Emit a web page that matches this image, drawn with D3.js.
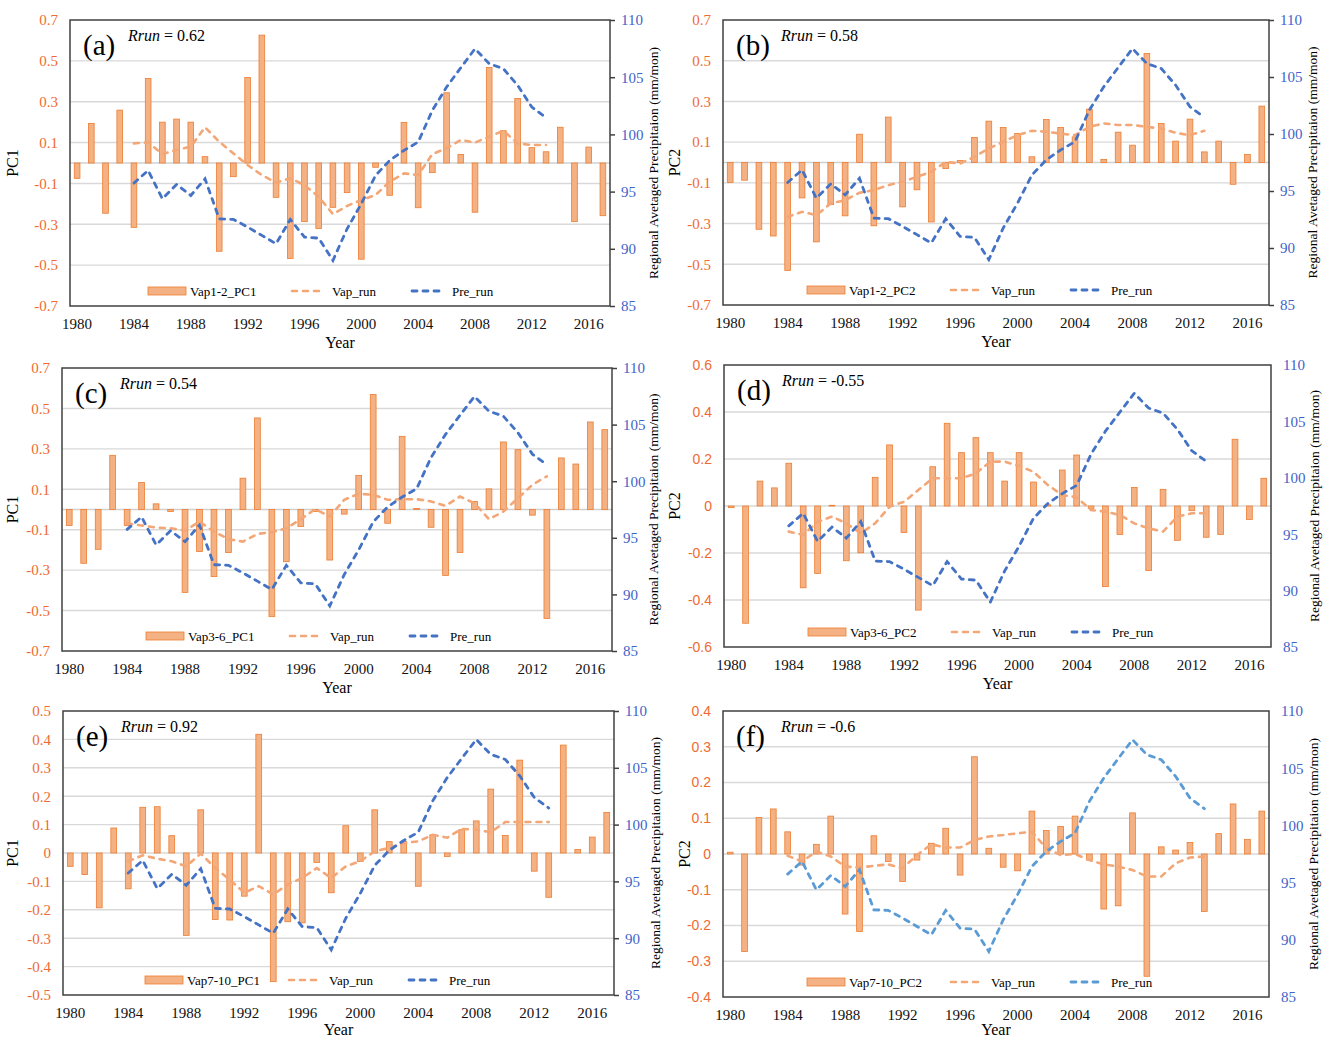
<!DOCTYPE html>
<html>
<head>
<meta charset="utf-8">
<title>Vap PCs vs regional precipitation</title>
<script src="https://d3js.org/d3.v7.min.js"></script>
<style>
  body { margin: 0; background: #fff; }
  svg { display: block; }
  svg text { font-family: "Liberation Serif", "Times New Roman", serif; }
  .grid line { stroke: #d9d9d9; stroke-width: 1.4px; }
  .frame { fill: none; stroke: #404040; stroke-width: 1.5px; }
  .bar { fill: #f4b183; stroke: #ed7d31; stroke-width: 0.8px; }
  .vap { fill: none; stroke: #f3a676; stroke-width: 2.6px; stroke-dasharray: 5,6; stroke-linecap: round; }
  .pre { fill: none; stroke: #4472c4; stroke-width: 2.8px; stroke-dasharray: 5,6; stroke-linecap: round; }
  .pre.light { stroke: #5b9bd5; }
  .yl text { fill: #ef6a32; font-size: 15px; }
  .yr text { fill: #3f63c8; font-size: 15px; }
  .xa text { fill: #111; font-size: 15px; }
  svg .sans text { font-family: "Liberation Sans", Arial, sans-serif; font-size: 14px; }
</style>
</head>
<body>
<div id="chart"></div>
<script>
// categories
var years = [1980,1981,1982,1983,1984,1985,1986,1987,1988,1989,
             1990,1991,1992,1993,1994,1995,1996,1997,1998,1999,
             2000,2001,2002,2003,2004,2005,2006,2007,2008,2009,
             2010,2011,2012,2013,2014,2015,2016,2017];
var runYears = [1984,1985,1986,1987,1988,1989,1990,1991,1992,1993,
                1994,1995,1996,1997,1998,1999,2000,2001,2002,2003,
                2004,2005,2006,2007,2008,2009,2010,2011,2012,2013];
var yearTicks = [1980,1984,1988,1992,1996,2000,2004,2008,2012,2016];

// regional averaged precipitation, running mean (mm/mon)
var preRun = [95.74,96.85,94.37,95.63,94.66,96.12,92.62,92.57,91.9,91.17,
              90.44,92.57,91.02,90.93,88.98,91.75,93.94,96.41,97.73,98.6,
              99.33,102.1,104.14,105.83,107.49,106.18,105.74,104.29,102.39,101.46];

// (a) Vap1-2 PC1
var pcA = [-0.075,0.194,-0.246,0.259,-0.315,0.414,0.2,0.215,0.2,0.031,
           -0.432,-0.067,0.419,0.626,-0.168,-0.467,-0.287,-0.321,-0.217,-0.145,
           -0.471,-0.021,-0.158,0.199,-0.219,-0.047,0.344,0.042,-0.241,0.468,
           0.158,0.316,0.075,0.055,0.175,-0.287,0.078,-0.258];
var vapA = [0.096,0.101,0.044,0.064,0.080,0.175,0.104,0.047,-0.010,-0.059,
            -0.096,-0.075,-0.108,-0.165,-0.250,-0.210,-0.181,-0.157,-0.091,-0.051,
            -0.059,0.044,0.072,0.113,0.100,0.129,0.158,0.096,0.088,0.088];

// (b) Vap1-2 PC2
var pcB = [-0.098,-0.087,-0.328,-0.361,-0.53,-0.174,-0.39,-0.207,-0.262,0.139,
           -0.311,0.223,-0.218,-0.134,-0.292,-0.03,0.01,0.123,0.203,0.172,
           0.143,0.028,0.211,0.172,0.126,0.262,0.015,0.149,0.085,0.536,
           0.192,0.105,0.213,0.052,0.105,-0.107,0.039,0.277];
var vapB = [-0.267,-0.242,-0.259,-0.201,-0.185,-0.149,-0.136,-0.111,-0.095,-0.070,
            -0.046,0.003,-0.005,0.028,0.069,0.102,0.134,0.156,0.151,0.142,
            0.134,0.175,0.192,0.184,0.184,0.175,0.167,0.146,0.134,0.156];

// (c) Vap3-6 PC1
var pcC = [-0.079,-0.266,-0.197,0.268,-0.079,0.134,0.028,-0.01,-0.41,-0.208,
           -0.332,-0.213,0.155,0.453,-0.53,-0.258,-0.084,-0.01,-0.25,-0.023,
           0.169,0.569,-0.068,0.362,0.005,-0.088,-0.326,-0.213,0.04,0.102,
           0.334,0.296,-0.028,-0.539,0.255,0.225,0.433,0.395];
var vapC = [-0.068,-0.079,-0.089,-0.093,-0.104,-0.060,-0.109,-0.147,-0.159,-0.121,
            -0.112,-0.093,-0.048,0.002,-0.035,0.048,0.078,0.073,0.048,0.051,
            0.051,0.040,0.018,0.064,0.031,-0.048,-0.010,0.056,0.122,0.164];

// (d) Vap3-6 PC2
var pcD = [-0.007,-0.499,0.106,0.077,0.182,-0.348,-0.287,0.003,-0.233,-0.199,
           0.122,0.26,-0.113,-0.443,0.167,0.352,0.227,0.291,0.227,0.106,
           0.227,0.102,0.005,0.153,0.217,-0.01,-0.343,-0.121,0.079,-0.275,
           0.071,-0.146,-0.02,-0.133,-0.121,0.284,-0.057,0.118];
var vapD = [-0.109,-0.123,-0.067,-0.045,-0.074,-0.116,-0.074,-0.003,0.018,0.068,
            0.118,0.118,0.118,0.139,0.189,0.189,0.170,0.146,0.089,0.047,
            0.037,-0.017,-0.024,-0.038,-0.074,-0.095,-0.109,-0.045,-0.031,-0.031];

// (e) Vap7-10 PC1
var pcE = [-0.047,-0.076,-0.193,0.088,-0.126,0.161,0.163,0.061,-0.29,0.152,
           -0.234,-0.236,-0.152,0.418,-0.453,-0.242,-0.246,-0.033,-0.14,0.096,
           -0.03,0.152,0.04,0.04,-0.117,0.064,-0.012,0.082,0.113,0.225,
           0.062,0.327,-0.064,-0.156,0.38,0.012,0.056,0.143];
var vapE = [-0.029,-0.008,-0.02,-0.029,-0.047,-0.002,-0.053,-0.094,-0.14,-0.117,
            -0.146,-0.111,-0.088,-0.053,-0.088,-0.047,-0.029,0.006,0.018,0.035,
            0.041,0.064,0.054,0.085,0.082,0.073,0.109,0.109,0.109,0.109];

// (f) Vap7-10 PC2
var pcF = [0.005,-0.273,0.102,0.126,0.062,-0.031,0.027,0.106,-0.168,-0.217,
           0.051,-0.021,-0.077,-0.017,0.03,0.072,-0.059,0.272,0.016,-0.037,
           -0.047,0.12,0.066,0.077,0.106,-0.017,-0.154,-0.145,0.115,-0.342,
           0.02,0.011,0.032,-0.161,0.057,0.14,0.041,0.12];
var vapF = [-0.005,-0.021,0.007,-0.007,-0.035,-0.038,-0.033,-0.029,-0.04,-0.003,
            0.027,0.018,0.018,0.039,0.049,0.053,0.058,0.062,0.016,-0.003,
            0.0,-0.017,-0.029,-0.035,-0.045,-0.063,-0.063,-0.026,-0.01,-0.007];

// tick labels
var ticks07 = [0.7,0.5,0.3,0.1,-0.1,-0.3,-0.5,-0.7];
var ticks06 = [0.6,0.4,0.2,0,-0.2,-0.4,-0.6];
var ticks05 = [0.5,0.4,0.3,0.2,0.1,0,-0.1,-0.2,-0.3,-0.4,-0.5];
var ticks04 = [0.4,0.3,0.2,0.1,0,-0.1,-0.2,-0.3,-0.4];
var preTicks = [85,90,95,100,105,110];

var rRun = ["0.62","0.58","0.54","-0.55","0.92","-0.6"];
var pcNames = ["Vap1-2_PC1","Vap1-2_PC2","Vap3-6_PC1","Vap3-6_PC2","Vap7-10_PC1","Vap7-10_PC2"];

// layout: frame box of each panel [left, top, right, bottom]
var panels = [
  {tag:"(a)", box:[70,20,610,306],   pc:pcA, vap:vapA, ticks:ticks07, title:"PC1", titleDx:52, rtDx:48, legDx:-6, rTicks:true},
  {tag:"(b)", box:[723,20,1269,305], pc:pcB, vap:vapB, ticks:ticks07, title:"PC2", titleDx:43, rtDx:48, legDx:0,  rTicks:true},
  {tag:"(c)", box:[62,368,612,651],  pc:pcC, vap:vapC, ticks:ticks07, title:"PC1", titleDx:44, rtDx:46, legDx:0,  rTicks:true},
  {tag:"(d)", box:[724,365,1271,647],pc:pcD, vap:vapD, ticks:ticks06, title:"PC2", titleDx:44, rtDx:48, legDx:0,  rTicks:false, sans:true},
  {tag:"(e)", box:[63,711,614,995],  pc:pcE, vap:vapE, ticks:ticks05, title:"PC1", titleDx:45, rtDx:46, legDx:-2, rTicks:true},
  {tag:"(f)", box:[723,711,1269,997],pc:pcF, vap:vapF, ticks:ticks04, title:"PC2", titleDx:33, rtDx:49, legDx:0,  rTicks:false, sans:true, light:true}
];

var svg = d3.select("#chart").append("svg")
    .attr("width", 1326)
    .attr("height", 1040);

panels.forEach(function(p, i) {
  var l = p.box[0], t = p.box[1], r = p.box[2], b = p.box[3];
  var g = svg.append("g");

  var x = d3.scaleBand().domain(years).range([l, r]);
  var y = d3.scaleLinear().domain([p.ticks[p.ticks.length - 1], p.ticks[0]]).range([b, t]);
  var y2 = d3.scaleLinear().domain([85, 110]).range([b, t]);
  var cx = function(yr) { return x(yr) + x.bandwidth() / 2; };

  // gridlines (inner ticks only, frame covers the ends)
  g.append("g").attr("class", "grid")
    .selectAll("line")
    .data(p.ticks.slice(1, -1))
    .join("line")
    .attr("x1", l).attr("x2", r)
    .attr("y1", function(d) { return y(d); })
    .attr("y2", function(d) { return y(d); });
  // zero line when 0 is not a tick
  if (p.ticks.indexOf(0) < 0) {
    g.append("line")
      .attr("x1", l).attr("x2", r).attr("y1", y(0)).attr("y2", y(0))
      .style("stroke", "#d0d0d0").style("stroke-width", "1.4px");
  }

  // bars
  var bw = x.bandwidth() * 0.4;
  g.selectAll("rect.bar")
    .data(years)
    .join("rect")
    .attr("class", "bar")
    .attr("x", function(d) { return cx(d) - bw / 2; })
    .attr("width", bw)
    .attr("y", function(d, k) { return Math.min(y(p.pc[k]), y(0)); })
    .attr("height", function(d, k) { return Math.abs(y(p.pc[k]) - y(0)); });

  // running means
  var vapLine = d3.line().x(function(d) { return cx(d); })
    .y(function(d, k) { return y(p.vap[k]); });
  var preLine = d3.line().x(function(d) { return cx(d); })
    .y(function(d, k) { return y2(preRun[k]); });
  g.append("path").attr("class", "vap").attr("d", vapLine(runYears));
  g.append("path").attr("class", p.light ? "pre light" : "pre").attr("d", preLine(runYears));

  // frame
  g.append("rect").attr("class", "frame")
    .attr("x", l).attr("y", t).attr("width", r - l).attr("height", b - t);

  // left axis
  var yl = g.append("g").attr("class", p.sans ? "yl sans" : "yl")
    .attr("transform", "translate(" + l + ",0)")
    .call(d3.axisLeft(y).tickValues(p.ticks).tickSize(0).tickPadding(12)
      .tickFormat(function(d) { return d === 0 ? "0" : String(d); }));
  yl.select(".domain").remove();

  // right axis
  var yr = g.append("g").attr("class", "yr")
    .attr("transform", "translate(" + r + ",0)")
    .call(d3.axisRight(y2).tickValues(preTicks).tickSize(p.rTicks ? 5 : 0).tickPadding(p.rTicks ? 6 : 12));
  yr.select(".domain").remove();
  yr.selectAll("line").attr("stroke", "#404040").attr("stroke-width", 1.5);

  // bottom axis
  var xa = g.append("g").attr("class", "xa")
    .attr("transform", "translate(0," + b + ")")
    .call(d3.axisBottom(x).tickValues(yearTicks).tickSize(0).tickPadding(12));
  xa.select(".domain").remove();

  // axis titles
  g.append("text")
    .attr("x", (l + r) / 2).attr("y", Math.min(b + 42, 1035))
    .attr("text-anchor", "middle").style("font-size", "16px")
    .text("Year");
  g.append("text")
    .attr("transform", "translate(" + (l - p.titleDx) + "," + ((t + b) / 2) + ") rotate(-90)")
    .attr("text-anchor", "middle").style("font-size", "16px")
    .text(p.title);
  g.append("text")
    .attr("transform", "translate(" + Math.min(r + p.rtDx, 1321) + "," + ((t + b) / 2) + ") rotate(-90)")
    .attr("text-anchor", "middle").style("font-size", "13.5px")
    .text("Regional Avetaged Precipitaion (mm/mon)");

  // panel tag and correlation
  g.append("text")
    .attr("x", l + 13).attr("y", t + 35)
    .style("font-size", "29px")
    .text(p.tag);
  var rt = g.append("text")
    .attr("x", l + 58).attr("y", t + 21)
    .style("font-size", "16px");
  rt.append("tspan").style("font-style", "italic").text("Rrun");
  rt.append("tspan").text(" = " + rRun[i]);

  // legend
  var ly = b - 15;
  var lx = l + p.legDx;
  var leg = [
    {type:"bar", text:pcNames[i], tx:126},
    {type:"vap", text:"Vap_run", tx:268},
    {type:"pre", text:"Pre_run", tx:388}
  ];
  leg.forEach(function(it) {
    var tx = lx + it.tx;
    if (it.type === "bar") {
      g.append("rect").attr("class", "bar")
        .attr("x", tx - 42).attr("y", ly - 4).attr("width", 38).attr("height", 8);
    } else {
      g.append("line")
        .attr("class", it.type === "pre" ? (p.light ? "pre light" : "pre") : "vap")
        .attr("x1", tx - 40).attr("x2", tx - 8).attr("y1", ly).attr("y2", ly);
    }
    g.append("text")
      .attr("x", tx).attr("y", ly).attr("dy", "0.35em")
      .style("font-size", "13px")
      .text(it.text);
  });
});
</script>
</body>
</html>
